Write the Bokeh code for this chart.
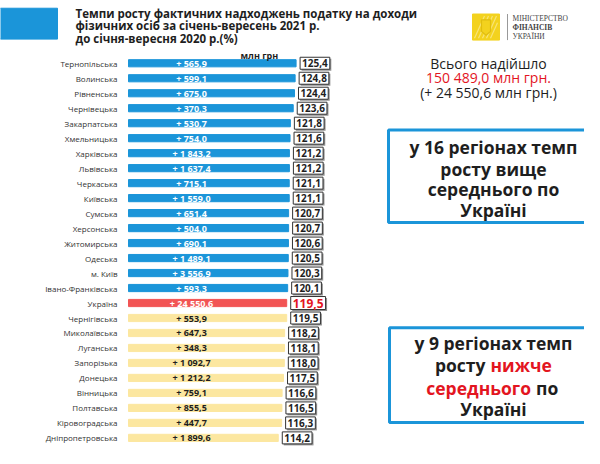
from bokeh.plotting import figure
from bokeh.models import Range1d, ColumnDataSource
from bokeh.core.properties import value
from bokeh.embed import file_html
from bokeh.resources import INLINE

# ---------------- data ----------------
regions = ["Тернопільська", "Волинська", "Рівненська", "Чернівецька", "Закарпатська",
           "Хмельницька", "Харківська", "Львівська", "Черкаська", "Київська", "Сумська",
           "Херсонська", "Житомирська", "Одеська", "м. Київ", "Івано-Франківська",
           "Україна", "Чернігівська", "Миколаївська", "Луганська", "Запорізька",
           "Донецька", "Вінницька", "Полтавська", "Кіровоградська", "Дніпропетровська"]
growth_rate = [125.4, 124.8, 124.4, 123.6, 121.8, 121.6, 121.2, 121.2, 121.1, 121.1,
               120.7, 120.7, 120.6, 120.5, 120.3, 120.1, 119.5, 119.5, 118.2, 118.1,
               118.0, 117.5, 116.6, 116.5, 116.3, 114.2]
increase_mln = [565.9, 599.1, 675.0, 370.3, 530.7, 754.0, 1843.2, 1637.4, 715.1, 1559.0,
                651.4, 504.0, 690.1, 1489.1, 3556.9, 593.3, 24550.6, 553.9, 647.3, 348.3,
                1092.7, 1212.2, 759.1, 855.5, 447.7, 1899.6]
group = ["above"] * 16 + ["ukraine"] + ["below"] * 9

unit_label = "млн грн"
title_lines = ["Темпи росту фактичних надходжень  податку  на доходи",
               "фізичних осіб за січень-вересень 2021 р.",
               "до січня-вересня 2020 р.(%)"]
total_lines = ["Всього надійшло", "150 489,0 млн грн.", "(+ 24 550,6 млн грн.)"]
ministry_lines = ["МІНІСТЕРСТВО", "ФІНАНСІВ", "УКРАЇНИ"]

# ---------------- styling ----------------
BLUE = "#1b95d9"
RED_BAR = "#f25454"
YELLOW = "#fce7a0"
RED_TXT = "#e3151f"
DARK = "#1e1e1e"
FONT = value("Open Sans")

bar_color = {"above": BLUE, "ukraine": RED_BAR, "below": YELLOW}
inc_color = {"above": "white", "ukraine": "white", "below": DARK}

BASE = 20.0
W, H = 584, 448
REF_H = 464           # layout designed on a 464-high sheet, squeezed into H
PX_PER_UNIT = 1.59
BAR_LEFT_PX = 128
ROW_PX = 15.52
FIRST_ROW_PX = 65

def fmt_rate(v):
    return f"{v:.1f}".replace(".", ",")

def fmt_inc(v):
    return "+ " + f"{v:,.1f}".replace(",", " ").replace(".", ",")

n = len(regions)
src = ColumnDataSource(dict(
    region=regions,
    y=list(range(n)),
    rate=growth_rate,
    base=[BASE] * n,
    rate_lbl=[fmt_rate(v) for v in growth_rate],
    inc_lbl=[fmt_inc(v) for v in increase_mln],
    color=[bar_color[g] for g in group],
    inc_color=[inc_color[g] for g in group],
    lbl_color=[RED_TXT if g == "ukraine" else DARK for g in group],
    lbl_size=["12px" if g == "ukraine" else "10px" for g in group],
))

x_start = BASE - BAR_LEFT_PX / PX_PER_UNIT
x_end = x_start + W / PX_PER_UNIT
y_top = -FIRST_ROW_PX / ROW_PX
y_bottom = y_top + REF_H / ROW_PX

p = figure(width=W, height=H, output_backend="svg", toolbar_location=None,
           x_range=Range1d(x_start, x_end), y_range=Range1d(y_bottom, y_top),
           x_axis_location=None, y_axis_location=None, min_border=0,
           outline_line_color=None, background_fill_color="white",
           border_fill_color="white")
p.grid.visible = False
p.extra_x_ranges = {"px": Range1d(0, W)}
p.extra_y_ranges = {"px": Range1d(REF_H, 0)}
PX = dict(x_range_name="px", y_range_name="px")

# bars
p.hbar(y="y", left="base", right="rate", height=0.48, color="color", source=src)

# region labels
p.text(x="base", y="y", text="region", source=src, x_offset=-11,
       text_align="right", text_baseline="middle", text_font=FONT,
       text_font_size="8px", text_color="#333333")

# increments inside bars
p.text(x="base", y="y", text="inc_lbl", source=src, x_offset=63,
       text_align="center", text_baseline="middle", text_font=FONT,
       text_font_style="bold", text_font_size="9px", text_color="inc_color")

# value boxes (shadow + box)
p.text(x="rate", y="y", text="rate_lbl", source=src, x_offset=5.5, y_offset=1.5,
       text_align="left", text_baseline="middle", text_font=FONT,
       text_font_style="bold", text_font_size="lbl_size", text_alpha=0,
       background_fill_color="#777777", background_fill_alpha=0.8, padding=2)
p.text(x="rate", y="y", text="rate_lbl", source=src, x_offset=4,
       text_align="left", text_baseline="middle", text_font=FONT,
       text_font_style="bold", text_font_size="lbl_size", text_color="lbl_color",
       background_fill_color="white", border_line_color="#333333",
       border_line_width=1, padding=2)

# header
p.quad(left=-10, right=57, top=8, bottom=40, color=BLUE, **PX)
for i, t in enumerate(title_lines):
    p.text(x=[75], y=[13 + 13 * i], text=[t], text_font=FONT, text_font_style="bold",
           text_font_size="11.5px", text_color=DARK, text_baseline="middle", **PX)
p.text(x=[240], y=[57], text=[unit_label], text_font=FONT, text_font_style="bold",
       text_font_size="9px", text_color=DARK, text_baseline="middle", **PX)

# ministry logo
p.quad(left=472, right=499, top=14, bottom=41, color="#f3d21e", **PX)
p.segment(x0=[474, 478, 482, 486, 490], y0=[39, 39, 39, 39, 39],
          x1=[484, 488, 492, 496, 497], y1=[16, 16, 16, 16, 23],
          line_color="#f8e476", line_width=1.2, **PX)
p.patch(x=[481, 490, 490, 485.5, 481], y=[20, 20, 32, 36, 32],
        fill_color="#f3d21e", line_color="#e0bd10", line_width=1.2, **PX)
p.segment(x0=[507], y0=[14], x1=[507], y1=[41], line_color="#999999", line_width=1, **PX)
for i, t in enumerate(ministry_lines):
    p.text(x=[512], y=[19 + 9 * i], text=[t], text_font=value("Liberation Serif"),
           text_font_style="bold" if i == 1 else "normal", text_font_size="7.5px",
           text_color="#444444", text_baseline="middle", **PX)

# totals
for i, (t, c) in enumerate(zip(total_lines, [DARK, RED_TXT, DARK])):
    p.text(x=[488], y=[65 + 15 * i], text=[t], text_font=FONT, text_font_size="14px",
           text_color=c, text_align="center", text_baseline="middle", **PX)

# box 1
CX = 493
p.quad(left=388, right=610, top=134, bottom=230, fill_color=None,
       line_color=BLUE, line_width=3, **PX)
B = dict(text_font=FONT, text_font_style="bold", text_font_size="17.5px",
         text_baseline="middle", **PX)
for t, yy in zip(["у 16 регіонах темп", "росту вище", "середнього по", "Україні"],
                 [152, 174, 195.5, 217]):
    p.text(x=[CX], y=[yy], text=[t], text_color=DARK, text_align="center", **B)

# box 2
p.quad(left=389, right=610, top=339, bottom=437, fill_color=None,
       line_color=BLUE, line_width=3, **PX)
p.text(x=[CX], y=[355], text=["у 9 регіонах темп"], text_color=DARK, text_align="center", **B)
p.text(x=[485], y=[378], text=["росту"], text_color=DARK, text_align="right", **B)
p.text(x=[490], y=[378], text=["нижче"], text_color=RED_TXT, text_align="left", **B)
p.text(x=[530.5], y=[401], text=["середнього"], text_color=RED_TXT, text_align="right", **B)
p.text(x=[535.5], y=[401], text=["по"], text_color=DARK, text_align="left", **B)
p.text(x=[CX], y=[423], text=["Україні"], text_color=DARK, text_align="center", **B)

open("out.html", "w").write(file_html(p, INLINE))
